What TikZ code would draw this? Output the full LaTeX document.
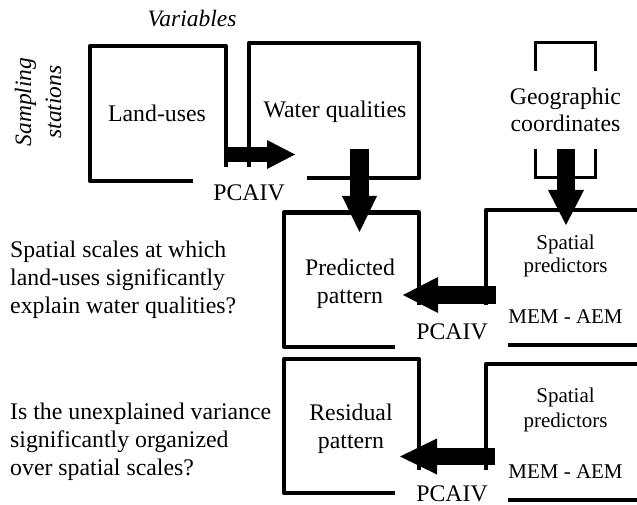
\documentclass[tikz,border=0pt]{standalone}
\usepackage{fontspec}
\setmainfont{Liberation Serif}[ItalicFont={Liberation Serif Italic}]
\usetikzlibrary{arrows.meta}
\begin{document}
\begin{tikzpicture}[x=1pt,y=-1pt,
  box/.style={line width=4.5pt, line join=round},
  bracket/.style={line width=2.5pt},
  txt/.style={anchor=base, inner sep=0pt, font=\fontsize{23.8}{28}\selectfont},
  ittxt/.style={inner sep=0pt, font=\fontsize{23.5}{30}\selectfont\itshape},
  qtxt/.style={anchor=base west, inner sep=0pt, font=\fontsize{23.8}{28}\selectfont},
  smalltxt/.style={anchor=base, inner sep=0pt, font=\fontsize{21}{24}\selectfont},
  fat/.style n args={3}{line width=#1, -{Triangle[length=#2, width=#3, line width=0pt]}}]
\useasboundingbox (0,0) rectangle (637,505);
% open boxes
\draw[box] (193,181) -- (90,181) -- (90,46) -- (226,46) -- (226,167);
\draw[box] (249,167) -- (249,43) -- (419,43) -- (419,178) -- (307,178);
\draw[box] (395,347) -- (284,347) -- (284,212.5) -- (419,212.5) -- (419,305);
\draw[box] (486,305) -- (486,210) -- (637,210);
\draw[box] (508,345) -- (637,345);
\draw[box] (395,493) -- (284,493) -- (284,359) -- (419,359) -- (419,470);
\draw[box] (486,470) -- (486,364) -- (637,364);
\draw[box] (508,500) -- (637,500);
% brackets round geographic coordinates
\draw[bracket] (535.7,70.7) -- (535.7,42.7) -- (595.7,42.7) -- (595.7,70.7);
\draw[bracket] (535.7,149) -- (535.7,177.7) -- (595.7,177.7) -- (595.7,149);
% texts
\node[ittxt, anchor=base] (var) at (192,27) {Variables};
\node[ittxt, rotate=90, align=center] (samp) at (38,102) {Sampling\\stations};
\node[txt] (land) at (157,122) {Land-uses};
\node[txt] (water) at (335,118) {Water qualities};
\node[txt] (geoa) at (565.5,105) {Geographic};
\node[txt] (geob) at (565.5,132) {coordinates};
\node[txt] (pca) at (249,201) {PCAIV};
\node[txt] (preda) at (350,275) {Predicted};
\node[txt] (predb) at (350,303) {pattern};
\node[smalltxt] (spa) at (565.5,249) {Spatial};
\node[smalltxt] (spb) at (565.5,272) {predictors};
\node[smalltxt] (mema) at (565.5,323) {MEM - AEM};
\node[txt] (pcb) at (452,339) {PCAIV};
\node[txt] (resa) at (351,420) {Residual};
\node[txt] (resb) at (351,448) {pattern};
\node[smalltxt] (spc) at (565.5,402) {Spatial};
\node[smalltxt] (spd) at (565.5,427) {predictors};
\node[smalltxt] (memb) at (565.5,478) {MEM - AEM};
\node[txt] (pcc) at (452,501) {PCAIV};
\node[qtxt] (qa) at (10,257) {Spatial scales at which};
\node[qtxt] (qb) at (10,285) {land-uses significantly};
\node[qtxt] (qc) at (10,313) {explain water qualities?};
\node[qtxt] (qd) at (10,419) {Is the unexplained variance};
\node[qtxt] (qe) at (10,447) {significantly organized};
\node[qtxt] (qf) at (10,475) {over spatial scales?};
% arrow ends
\coordinate (a1s) at (225,154.5);  \coordinate (a1e) at (295,154.5);
\coordinate (a2s) at (359.5,149);  \coordinate (a2e) at (359.5,232);
\coordinate (a3s) at (566,149);    \coordinate (a3e) at (566,225);
\coordinate (a4s) at (496,295);    \coordinate (a4e) at (403,295);
\coordinate (a5s) at (495,456.5);  \coordinate (a5e) at (400,456.5);
% block arrows
\draw[fat={15pt}{28pt}{29pt}] (a1s) -- (a1e);
\draw[fat={19pt}{36pt}{35pt}] (a2s) -- (a2e);
\draw[fat={18pt}{35pt}{36pt}] (a3s) -- (a3e);
\draw[fat={18pt}{35pt}{36pt}] (a4s) -- (a4e);
\draw[fat={17pt}{37pt}{36pt}] (a5s) -- (a5e);
\end{tikzpicture}
\end{document}
